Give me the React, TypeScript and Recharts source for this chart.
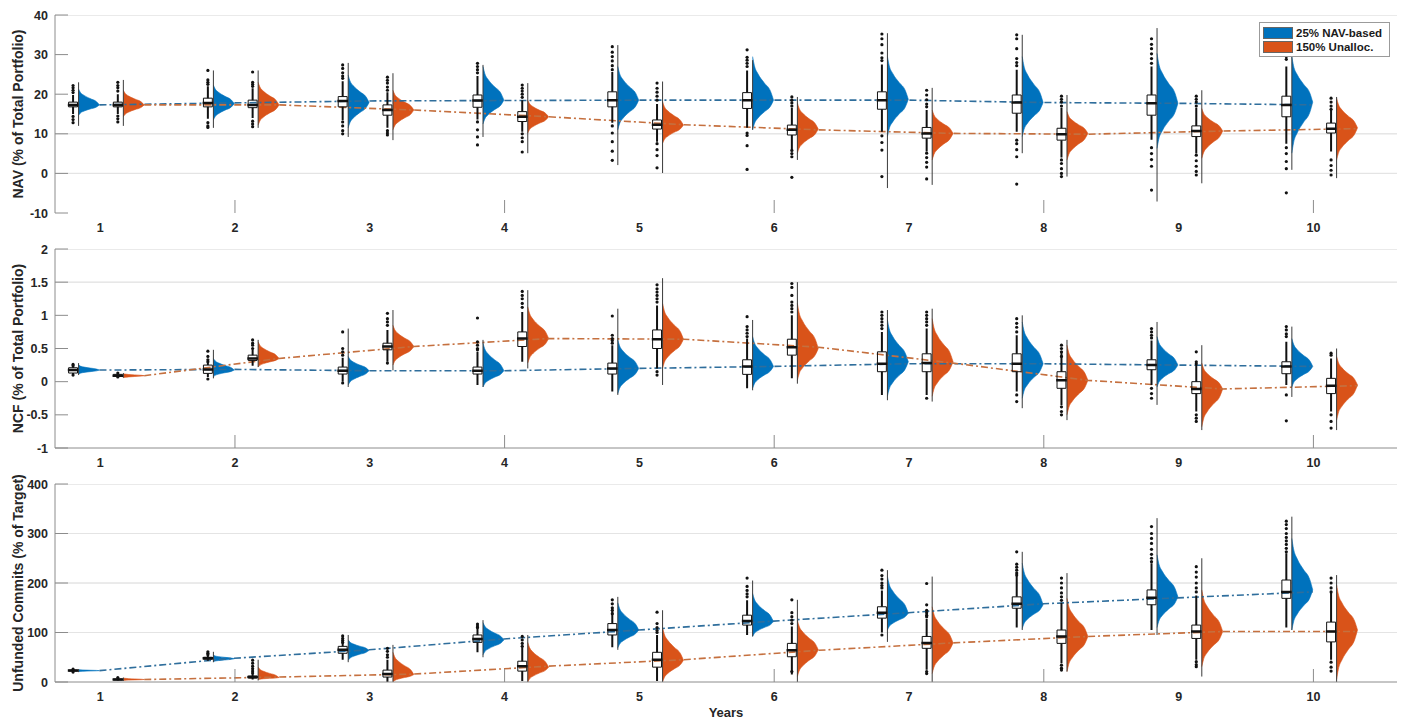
import { ComposedChart, Area, Line, Scatter, XAxis, YAxis, Legend } from 'recharts';

const YEARS = [1, 2, 3, 4, 5, 6, 7, 8, 9, 10];
const SERIES = ['25% NAV-based', '150% Unalloc.'];
const COLORS = ['#0072BD', '#D95319'];
const LINE_COLORS = ['#2f6e9c', '#c5703f'];

// half violin outline: share of the way from tail to mode, relative width
const PROFILE = [[0, 0], [0.2, 0.08], [0.4, 0.26], [0.6, 0.55], [0.8, 0.86], [1, 1]];

// ---- NAV (% of Total Portfolio) ----
const NAV_TICKS = [-10, 0, 10, 20, 30, 40];
const NAV_GRID = [40, 10, 0];
// [q1, median, q3]
const NAV_BLUE_BOX = [[16.8, 17.3, 18.0], [16.8, 17.8, 19.0], [16.8, 18.3, 19.4], [16.7, 18.4, 19.8], [16.8, 18.5, 20.6], [16.4, 18.5, 20.4], [16.2, 18.5, 20.6], [15.2, 17.9, 19.8], [14.7, 17.7, 19.8], [14.3, 17.3, 19.5]];
const NAV_BLUE_WHISK = [[15.0, 19.8], [13.8, 22.0], [13.5, 23.3], [13.6, 24.6], [12.8, 25.6], [11.5, 26.0], [10.5, 27.5], [10.5, 26.2], [8.5, 27.0], [7.5, 27.0]];
// [low tail, mode, high tail]
const NAV_BLUE_VIOLIN = [[14.7, 17.3, 21.3], [13.5, 17.6, 22.3], [11.5, 17.9, 24.8], [12.5, 18.5, 27.0], [11.0, 18.5, 27.0], [11.0, 18.5, 29.5], [9.3, 18.7, 29.5], [9.3, 17.9, 29.5], [6.3, 17.7, 30.3], [5.1, 18.0, 29.5]];
const NAV_BLUE_SPINE = [[12.0, 23.0], [11.5, 26.0], [9.2, 27.9], [9.2, 27.4], [2.1, 32.4], [11.0, 28.6], [-3.7, 35.4], [5.1, 35.0], [-7.1, 36.7], [0.9, 31.0]];
const NAV_BLUE_OUT = [
  [22.2, 21.6, 21.0, 20.4, 14.4, 13.6, 12.8],
  [26.0, 23.6, 23.0, 22.5, 12.8, 12.0, 11.6],
  [27.4, 26.5, 25.4, 24.6, 24.0, 13.0, 12.0, 10.8, 10.0],
  [27.8, 27.0, 26.2, 25.4, 13.0, 11.0, 9.2, 7.2],
  [32.0, 30.6, 29.5, 28.4, 27.2, 26.2, 12.0, 10.2, 8.0, 5.6, 3.3],
  [31.2, 29.3, 28.6, 27.8, 27.0, 10.2, 9.6, 7.0, 1.0],
  [35.2, 34.0, 32.5, 30.4, 29.2, 28.5, 9.5, 7.8, 5.9, -0.8],
  [35.0, 34.0, 31.5, 29.0, 28.0, 27.2, 8.4, 7.5, 6.0, 4.2, -2.7],
  [34.0, 32.6, 31.5, 30.2, 29.0, 27.8, 6.5, 5.0, 3.5, 1.8, -4.2],
  [29.5, 28.8, 6.5, 5.0, 3.0, 1.2, -4.9],
];
const NAV_ORANGE_BOX = [[16.8, 17.3, 18.0], [16.6, 17.3, 18.5], [14.7, 16.0, 17.3], [13.1, 14.3, 15.6], [11.2, 12.3, 13.5], [9.7, 11.0, 12.2], [8.9, 10.1, 11.6], [8.4, 9.9, 11.4], [9.3, 10.7, 12.0], [10.2, 11.3, 12.7]];
const NAV_ORANGE_WHISK = [[15.0, 20.0], [14.0, 21.5], [11.5, 20.5], [10.5, 18.5], [8.0, 17.5], [6.0, 16.5], [5.5, 16.0], [4.0, 16.5], [5.0, 16.5], [5.5, 16.0]];
const NAV_ORANGE_VIOLIN = [[14.3, 17.3, 21.0], [12.2, 17.3, 23.0], [11.0, 16.0, 21.0], [10.2, 14.3, 18.5], [7.6, 12.2, 18.1], [5.1, 11.2, 17.8], [3.4, 10.1, 16.0], [3.4, 10.1, 15.6], [3.8, 10.7, 16.4], [3.4, 11.5, 19.0]];
const NAV_ORANGE_SPINE = [[12.0, 23.6], [11.5, 26.0], [8.4, 25.3], [5.1, 22.8], [0.1, 23.2], [3.4, 19.3], [-2.9, 21.6], [-0.8, 19.8], [-2.5, 21.0], [-1.2, 19.3]];
const NAV_ORANGE_OUT = [
  [23.0, 22.2, 21.6, 20.8, 14.5, 13.8, 13.0],
  [25.6, 23.0, 22.5, 22.0, 13.2, 12.5, 11.8],
  [24.3, 23.5, 22.8, 21.8, 21.0, 10.8, 10.2, 9.7],
  [22.3, 21.5, 20.8, 20.0, 19.2, 10.0, 9.0, 8.0, 5.4],
  [22.8, 21.5, 20.5, 19.5, 18.5, 7.5, 6.0, 4.5, 1.4],
  [19.3, 18.5, 17.8, 17.0, 5.8, 5.0, 4.2, -1.0],
  [21.0, 19.8, 18.6, 17.5, 16.8, 5.1, 4.0, 2.8, 1.6, -1.4],
  [19.5, 18.7, 18.0, 17.0, 3.4, 2.5, 1.2, 0.0, -0.8],
  [19.5, 18.7, 18.0, 17.0, 4.6, 3.2, 1.8, 0.5, -0.4],
  [19.0, 18.0, 17.0, 16.2, 3.4, 2.0, 0.8, -0.4],
];

// ---- NCF (% of Total Portfolio) ----
const NCF_TICKS = [-1, -0.5, 0, 0.5, 1, 1.5, 2];
const NCF_GRID = [2, 1.5];
const NCF_BLUE_BOX = [[0.13, 0.175, 0.21], [0.125, 0.185, 0.25], [0.115, 0.165, 0.22], [0.115, 0.165, 0.22], [0.115, 0.2, 0.28], [0.11, 0.23, 0.33], [0.15, 0.27, 0.45], [0.15, 0.27, 0.42], [0.18, 0.25, 0.33], [0.12, 0.23, 0.3]];
const NCF_BLUE_WHISK = [[0.11, 0.24], [0.07, 0.3], [0.0, 0.36], [-0.05, 0.45], [-0.15, 0.55], [-0.1, 0.65], [-0.2, 0.75], [-0.15, 0.7], [-0.05, 0.62], [-0.05, 0.6]];
const NCF_BLUE_VIOLIN = [[0.115, 0.175, 0.25], [0.075, 0.175, 0.35], [-0.05, 0.165, 0.38], [-0.08, 0.165, 0.58], [-0.18, 0.2, 0.63], [-0.1, 0.23, 0.68], [-0.22, 0.3, 0.93], [-0.25, 0.27, 0.9], [-0.08, 0.25, 0.68], [-0.08, 0.23, 0.65]];
const NCF_BLUE_SPINE = [[0.1, 0.28], [0.05, 0.48], [-0.08, 0.8], [-0.08, 0.63], [-0.2, 1.1], [-0.13, 0.93], [-0.28, 1.08], [-0.4, 1.0], [-0.35, 0.9], [-0.23, 0.83]];
const NCF_BLUE_OUT = [
  [0.26, 0.24, 0.1],
  [0.46, 0.38, 0.33, 0.3, 0.04],
  [0.75, 0.5, 0.45, 0.4, -0.02],
  [0.96, 0.6, 0.55, 0.5, 0.48],
  [0.99, 0.7, 0.65, 0.62, 0.58],
  [0.98, 0.83, 0.78, 0.73, 0.68],
  [1.05, 1.0, 0.95, 0.9, 0.85, 0.8],
  [0.95, 0.88, 0.82, 0.75, -0.2, -0.3],
  [0.8, 0.75, 0.7, 0.66, -0.1, -0.18, -0.25],
  [0.83, 0.78, 0.72, 0.68, -0.2, -0.59],
];
const NCF_ORANGE_BOX = [[0.08, 0.09, 0.11], [0.32, 0.35, 0.4], [0.48, 0.53, 0.58], [0.53, 0.65, 0.75], [0.5, 0.64, 0.78], [0.4, 0.52, 0.64], [0.15, 0.28, 0.42], [-0.1, 0.02, 0.15], [-0.18, -0.11, 0.0], [-0.18, -0.06, 0.05]];
const NCF_ORANGE_WHISK = [[0.06, 0.12], [0.24, 0.48], [0.3, 0.78], [0.3, 1.05], [0.2, 1.15], [0.05, 1.0], [-0.2, 0.8], [-0.35, 0.45], [-0.45, 0.25], [-0.45, 0.35]];
const NCF_ORANGE_VIOLIN = [[0.06, 0.09, 0.12], [0.22, 0.35, 0.6], [0.25, 0.53, 0.85], [0.28, 0.65, 1.13], [0.2, 0.64, 1.18], [0.02, 0.5, 1.18], [-0.22, 0.3, 0.95], [-0.5, 0.02, 0.55], [-0.68, -0.11, 0.28], [-0.58, -0.05, 0.38]];
const NCF_ORANGE_SPINE = [[0.06, 0.13], [0.22, 0.63], [0.17, 1.08], [0.2, 1.38], [-0.05, 1.56], [-0.03, 1.5], [-0.3, 1.1], [-0.58, 0.63], [-0.73, 0.55], [-0.73, 0.5]];
const NCF_ORANGE_OUT = [
  [0.13, 0.07],
  [0.63, 0.58, 0.55, 0.5],
  [1.03, 0.95, 0.9, 0.85, 0.28],
  [1.36, 1.3, 1.25, 1.18, 1.12],
  [1.46, 1.4, 1.35, 1.3, 1.25, 1.2, 0.15, 0.1],
  [1.48, 1.42, 1.3, 1.2, 1.15, 1.1, 1.05],
  [1.05, 1.0, 0.95, 0.9, 0.85, -0.25],
  [0.55, 0.5, 0.45, 0.38, -0.38, -0.45, -0.5],
  [0.45, 0.3, 0.27, -0.5, -0.55, -0.6],
  [0.43, 0.4, -0.5, -0.6, -0.7],
];

// ---- Unfunded Commits (% of Target) ----
const UNF_TICKS = [0, 100, 200, 300, 400];
const UNF_GRID = [400, 300, 200, 100];
const UNF_BLUE_BOX = [[22, 23, 24], [46, 48, 50], [58, 65, 72], [80, 87, 95], [95, 105, 118], [115, 123, 135], [129, 140, 152], [149, 158, 172], [156, 170, 186], [169, 182, 206]];
const UNF_BLUE_WHISK = [[21, 25], [43, 53], [45, 85], [60, 110], [70, 150], [95, 165], [100, 185], [110, 215], [105, 240], [110, 260]];
const UNF_BLUE_VIOLIN = [[21, 23, 25], [41, 47, 54], [44, 64, 85], [55, 85, 120], [69, 105, 160], [92, 122, 179], [105, 139, 213], [108, 156, 240], [110, 172, 257], [105, 186, 290]];
const UNF_BLUE_SPINE = [[20, 26], [40, 61], [40, 95], [50, 125], [65, 172], [92, 205], [81, 226], [105, 263], [95, 331], [105, 334]];
const UNF_BLUE_OUT = [
  [26, 20],
  [61, 58, 55],
  [93, 88, 84, 80],
  [117, 113, 110],
  [166, 158, 150, 145, 138],
  [210, 193, 185, 178, 172],
  [226, 215, 208, 200, 195, 190, 95],
  [263, 238, 232, 226, 220, 216],
  [314, 300, 290, 280, 268, 258, 250, 243],
  [325, 318, 310, 300, 292, 285, 278, 270, 263],
];
const UNF_ORANGE_BOX = [[4, 5, 6], [8, 10, 12], [10, 16, 24], [22, 32, 42], [30, 45, 60], [51, 64, 78], [68, 79, 92], [78, 92, 105], [88, 102, 115], [81, 102, 121]];
const UNF_ORANGE_WHISK = [[3, 7], [5, 16], [0, 45], [2, 70], [2, 95], [15, 112], [25, 128], [38, 160], [45, 175], [45, 180]];
const UNF_ORANGE_VIOLIN = [[3, 5, 8], [5, 9, 30], [0, 15, 60], [0, 30, 80], [0, 44, 110], [11, 65, 125], [17, 79, 152], [21, 92, 169], [31, 102, 186], [5, 105, 196]];
const UNF_ORANGE_SPINE = [[2, 9], [3, 45], [0, 75], [0, 95], [0, 145], [0, 166], [0, 213], [21, 220], [11, 250], [0, 216]];
const UNF_ORANGE_OUT = [
  [9],
  [44, 38, 32, 27, 22, 18],
  [68, 62, 55, 50],
  [92, 85, 78, 72],
  [141, 118, 110, 104, 100],
  [166, 140, 132, 125, 118, 21],
  [199, 156, 145, 140, 135, 132, 21, 17],
  [210, 200, 190, 180, 172, 165, 34, 28, 24],
  [233, 222, 212, 200, 190, 182, 41, 35, 31],
  [210, 200, 190, 182, 40, 30, 22],
];

const X_DOMAIN = [0.665, 10.62];
const SPINE_OFFSET = [-0.16, 0.172];
const VIOLIN_W = 0.155;
const BOX_GAP = 0.008;
const BOX_W = 0.066;
const FONT = "'Liberation Sans', Arial, Helvetica, sans-serif";
const AXIS_GRAY = '#8c8c8c';
const TEXT = '#262626';

type Group = { box: number[][]; whisk: number[][]; violin: number[][]; spine: number[][]; out: number[][] };

const GAP = { x: null, v: null, r: null };

function buildGroup(g: Group, s: number) {
  const violin: any[] = [];
  const boxFill: any[] = [];
  const boxEdge: any[] = [];
  const whisk: any[] = [];
  const median: any[] = [];
  const spine: any[] = [];
  const outliers: any[] = [];
  const trend: any[] = [];
  YEARS.forEach((year, i) => {
    const sx = year + SPINE_OFFSET[s];
    const [lo, pk, hi] = g.violin[i];
    // each width level spans from the lower to the upper side of the half violin
    PROFILE.forEach(([t, p]) => violin.push({ x: sx + VIOLIN_W * p, r: [lo + (pk - lo) * t, hi - (hi - pk) * t] }));
    violin.push(GAP);

    const [q1, med, q3] = g.box[i];
    const l = sx - BOX_GAP - BOX_W;
    const r = sx - BOX_GAP;
    const c = (l + r) / 2;
    boxFill.push({ x: l, r: [q1, q3] }, { x: r, r: [q1, q3] }, GAP);
    boxEdge.push({ x: l, v: q1 }, { x: r, v: q1 }, { x: r, v: q3 }, { x: l, v: q3 }, { x: l, v: q1 }, GAP);
    whisk.push({ x: c, v: q3 }, { x: c, v: g.whisk[i][1] }, GAP, { x: c, v: q1 }, { x: c, v: g.whisk[i][0] }, GAP);
    median.push({ x: l - 0.006, v: med }, { x: r + 0.006, v: med }, GAP);
    spine.push({ x: sx, v: g.spine[i][0] }, { x: sx, v: g.spine[i][1] }, GAP);
    g.out[i].forEach((o) => outliers.push({ x: c, v: o }));
    trend.push({ x: sx + VIOLIN_W, v: med });
  });
  return { violin, boxFill, boxEdge, whisk, median, spine, outliers, trend };
}

// horizontal grid lines as zero-height ranged areas, so they stay under the violins
function gridRows(values: number[]) {
  const rows: any[] = [];
  values.forEach((v) => rows.push({ x: X_DOMAIN[0], r: [v, v] }, { x: X_DOMAIN[1], r: [v, v] }, GAP));
  return rows;
}

const PANELS = [
  {
    title: 'NAV (% of Total Portfolio)', domain: [-10, 40], ticks: NAV_TICKS, grid: NAV_GRID,
    top: 0, height: 235, xHeight: 22, xLine: false, legend: true, years: false,
    groups: [
      { box: NAV_BLUE_BOX, whisk: NAV_BLUE_WHISK, violin: NAV_BLUE_VIOLIN, spine: NAV_BLUE_SPINE, out: NAV_BLUE_OUT },
      { box: NAV_ORANGE_BOX, whisk: NAV_ORANGE_WHISK, violin: NAV_ORANGE_VIOLIN, spine: NAV_ORANGE_SPINE, out: NAV_ORANGE_OUT },
    ],
  },
  {
    title: 'NCF (% of Total Portfolio)', domain: [-1, 2], ticks: NCF_TICKS, grid: NCF_GRID,
    top: 234, height: 236, xHeight: 22, xLine: true, legend: false, years: false,
    groups: [
      { box: NCF_BLUE_BOX, whisk: NCF_BLUE_WHISK, violin: NCF_BLUE_VIOLIN, spine: NCF_BLUE_SPINE, out: NCF_BLUE_OUT },
      { box: NCF_ORANGE_BOX, whisk: NCF_ORANGE_WHISK, violin: NCF_ORANGE_VIOLIN, spine: NCF_ORANGE_SPINE, out: NCF_ORANGE_OUT },
    ],
  },
  {
    title: 'Unfunded Commits (% of Target)', domain: [0, 400], ticks: UNF_TICKS, grid: UNF_GRID,
    top: 469, height: 252, xHeight: 39, xLine: true, legend: false, years: true,
    groups: [
      { box: UNF_BLUE_BOX, whisk: UNF_BLUE_WHISK, violin: UNF_BLUE_VIOLIN, spine: UNF_BLUE_SPINE, out: UNF_BLUE_OUT },
      { box: UNF_ORANGE_BOX, whisk: UNF_ORANGE_WHISK, violin: UNF_ORANGE_VIOLIN, spine: UNF_ORANGE_SPINE, out: UNF_ORANGE_OUT },
    ],
  },
];

const YearTick = ({ x, y, payload }: any) => (
  <g>
    {payload.value % 2 === 0 && <line x1={x} x2={x} y1={y - 13} y2={y} stroke={AXIS_GRAY} strokeWidth={1} />}
    <text x={x} y={y + 19} textAnchor="middle" fontFamily={FONT} fontWeight="bold" fontSize={12.5} fill={TEXT}>
      {payload.value}
    </text>
  </g>
);

const ValueTick = ({ x, y, payload }: any) => (
  <g>
    <line x1={x + 7} x2={x + 20} y1={y} y2={y} stroke={AXIS_GRAY} strokeWidth={1} />
    <text x={x} y={y + 4.5} textAnchor="end" fontFamily={FONT} fontWeight="bold" fontSize={12.5} fill={TEXT}>
      {payload.value}
    </text>
  </g>
);

const AxisTitle = ({ viewBox, text }: any) => {
  if (!viewBox) return null;
  const x = viewBox.x + 18;
  const y = viewBox.y + viewBox.height / 2;
  return (
    <text x={x} y={y} transform={`rotate(-90 ${x} ${y})`} textAnchor="middle" dominantBaseline="central"
      fontFamily={FONT} fontWeight="bold" fontSize={14} fill={TEXT}>
      {text}
    </text>
  );
};

const LegendBox = () => (
  <div style={{ border: '1px solid #9b9b9b', background: '#fff', padding: '3px 4px 2px 3px', fontFamily: FONT, fontWeight: 'bold', fontSize: 11.5, color: '#1a1a1a' }}>
    {SERIES.map((name, s) => (
      <div key={name} style={{ display: 'flex', alignItems: 'center', height: 14 }}>
        <span style={{ display: 'inline-block', width: 28, height: 10, background: COLORS[s], border: '1px solid #666', marginRight: 3 }} />
        {name}
      </div>
    ))}
  </div>
);

function Panel({ p }: { p: (typeof PANELS)[number] }) {
  const groups = p.groups.map((g, s) => buildGroup(g, s));
  return (
    <div style={{ position: 'absolute', left: 0, top: p.top }}>
      <ComposedChart width={1404} height={p.height} margin={{ top: 15, right: 7, bottom: 0, left: 0 }}>
        <XAxis
          type="number" dataKey="x" domain={X_DOMAIN} ticks={YEARS} allowDataOverflow interval={0}
          height={p.xHeight} axisLine={p.xLine ? { stroke: AXIS_GRAY } : false}
          tickLine={false} tickSize={0} tickMargin={0} tick={<YearTick />}
          label={p.years ? { value: 'Years', position: 'insideBottom', offset: 4, fill: TEXT, fontSize: 13, fontWeight: 'bold', fontFamily: FONT } : undefined}
        />
        <YAxis
          type="number" dataKey="v" domain={p.domain} ticks={p.ticks} allowDataOverflow interval={0}
          width={55} axisLine={{ stroke: AXIS_GRAY }} tickLine={false} tickSize={0} tickMargin={7}
          tick={<ValueTick />} label={<AxisTitle text={p.title} />}
        />
        <Area data={gridRows(p.grid)} dataKey="r" type="linear" fill="none" stroke="#e4e4e4" strokeWidth={1}
          dot={false} activeDot={false} isAnimationActive={false} />
        {groups.map((g, s) => (
          <Area key={`violin${s}`} data={g.violin} dataKey="r" type="monotone" fill={COLORS[s]} fillOpacity={1}
            stroke={COLORS[s]} strokeWidth={0.6} dot={false} activeDot={false} isAnimationActive={false} />
        ))}
        {groups.map((g, s) => (
          <Line key={`trend${s}`} data={g.trend} dataKey="v" type="linear" stroke={LINE_COLORS[s]} strokeWidth={1.6}
            strokeDasharray="7 3 2 3" dot={false} activeDot={false} isAnimationActive={false} />
        ))}
        {groups.map((g, s) => (
          <Line key={`spine${s}`} data={g.spine} dataKey="v" type="linear" stroke="#3a3a3a" strokeWidth={1}
            dot={false} activeDot={false} isAnimationActive={false} />
        ))}
        {groups.map((g, s) => (
          <Area key={`boxfill${s}`} data={g.boxFill} dataKey="r" type="linear" fill="#ffffff" fillOpacity={1}
            stroke="none" dot={false} activeDot={false} isAnimationActive={false} />
        ))}
        {groups.map((g, s) => (
          <Line key={`boxedge${s}`} data={g.boxEdge} dataKey="v" type="linear" stroke="#111" strokeWidth={1}
            dot={false} activeDot={false} isAnimationActive={false} />
        ))}
        {groups.map((g, s) => (
          <Line key={`whisk${s}`} data={g.whisk} dataKey="v" type="linear" stroke="#111" strokeWidth={2}
            dot={false} activeDot={false} isAnimationActive={false} />
        ))}
        {groups.map((g, s) => (
          <Line key={`median${s}`} data={g.median} dataKey="v" type="linear" stroke="#111" strokeWidth={2.5}
            dot={false} activeDot={false} isAnimationActive={false} />
        ))}
        {groups.map((g, s) => (
          <Scatter key={`out${s}`} data={g.outliers} isAnimationActive={false}
            shape={(d: any) => <circle cx={d.cx} cy={d.cy} r={1.6} fill="#111" />} />
        ))}
        {p.legend && (
          <Legend layout="horizontal" verticalAlign="middle" align="center"
            wrapperStyle={{ left: 1259, top: 22, width: 131 }} content={() => <LegendBox />} />
        )}
      </ComposedChart>
    </div>
  );
}

export default function App() {
  return (
    <div style={{ position: 'absolute', left: 0, top: 0, width: 1404, height: 721, background: '#fff', overflow: 'hidden' }}>
      {PANELS.map((p) => (
        <Panel key={p.title} p={p} />
      ))}
    </div>
  );
}
